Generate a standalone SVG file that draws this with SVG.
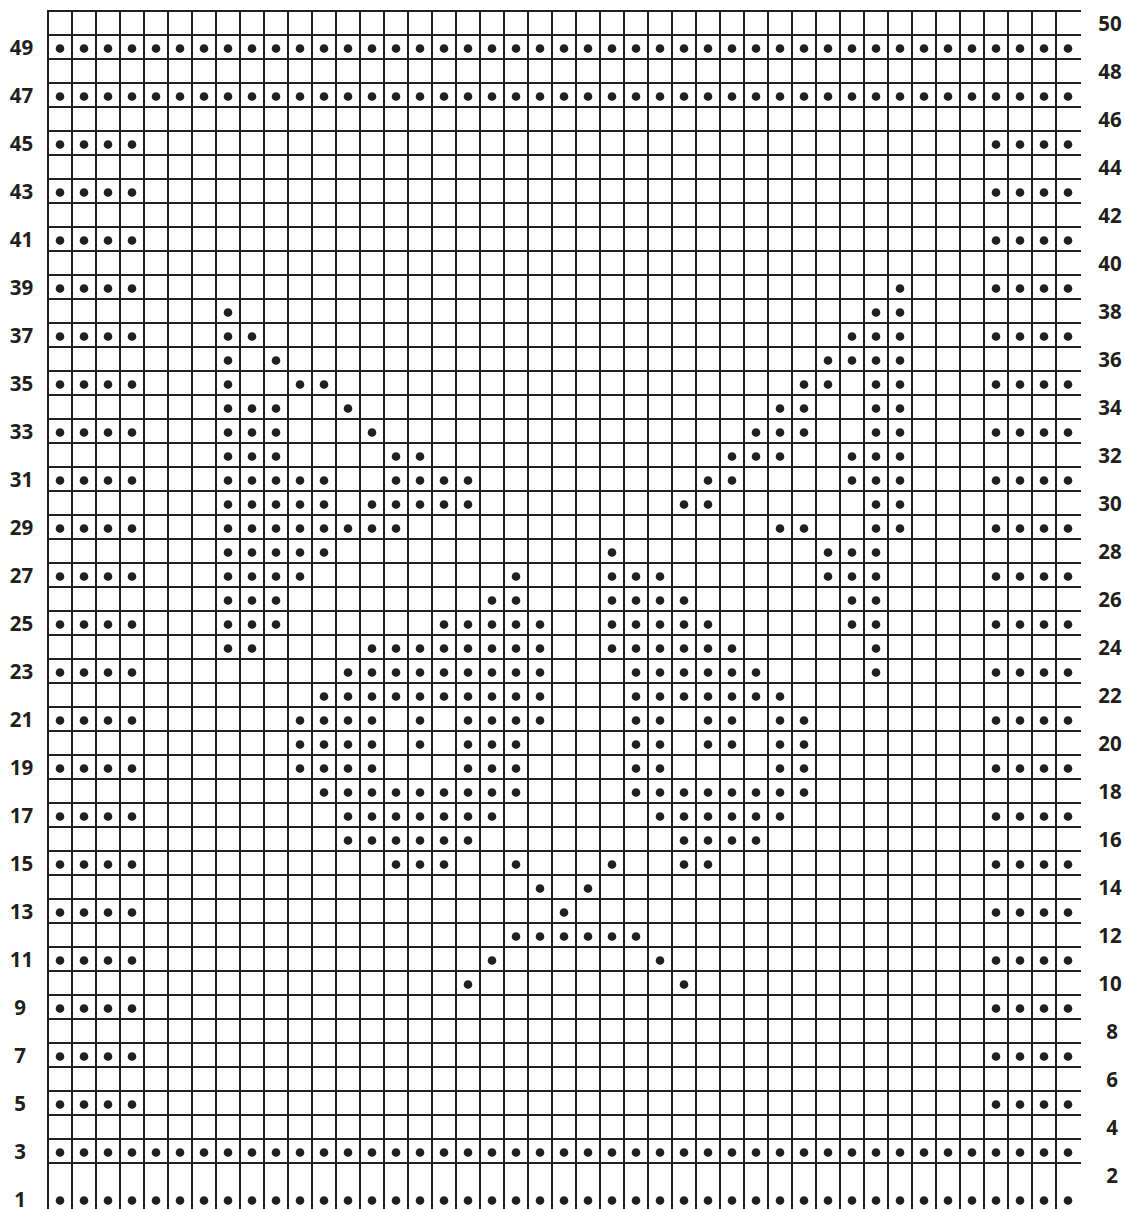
<svg xmlns="http://www.w3.org/2000/svg" xmlns:xlink="http://www.w3.org/1999/xlink" width="1125" height="1209" viewBox="0 0 1125 1209">
<style>
.grid{fill:none;stroke:#231f20;stroke-width:2}
circle{r:4.3px;fill:#231f20}
text{font-family:"Open Sans","Liberation Sans",Arial,sans-serif;font-weight:bold;font-size:20.5px;fill:#231f20;text-anchor:middle}
</style>
<defs>
<g id="A"><circle cx="0"/><circle cx="24"/><circle cx="48"/><circle cx="72"/><circle cx="96"/><circle cx="120"/><circle cx="144"/><circle cx="168"/><circle cx="192"/><circle cx="216"/><circle cx="240"/><circle cx="264"/><circle cx="288"/><circle cx="312"/><circle cx="336"/><circle cx="360"/><circle cx="384"/><circle cx="408"/><circle cx="432"/><circle cx="456"/><circle cx="480"/><circle cx="504"/><circle cx="528"/><circle cx="552"/><circle cx="576"/><circle cx="600"/><circle cx="624"/><circle cx="648"/><circle cx="672"/><circle cx="696"/><circle cx="720"/><circle cx="744"/><circle cx="768"/><circle cx="792"/><circle cx="816"/><circle cx="840"/><circle cx="864"/><circle cx="888"/><circle cx="912"/><circle cx="936"/><circle cx="960"/><circle cx="984"/><circle cx="1008"/></g>
<g id="B"><circle cx="0"/><circle cx="24"/><circle cx="48"/><circle cx="72"/><circle cx="936"/><circle cx="960"/><circle cx="984"/><circle cx="1008"/></g>
</defs>
<rect width="1125" height="1209" fill="#fff"/>
<g id="grid">
<path class="grid" d="M48 10V1209m24-1199v1199m24-1199v1199m24-1199v1199m24-1199v1199m24-1199v1199m24-1199v1199m24-1199v1199m24-1199v1199m24-1199v1199m24-1199v1199m24-1199v1199m24-1199v1199m24-1199v1199m24-1199v1199m24-1199v1199m24-1199v1199m24-1199v1199m24-1199v1199m24-1199v1199m24-1199v1199m24-1199v1199m24-1199v1199m24-1199v1199m24-1199v1199m24-1199v1199m24-1199v1199m24-1199v1199m24-1199v1199m24-1199v1199m24-1199v1199m24-1199v1199m24-1199v1199m24-1199v1199m24-1199v1199m24-1199v1199m24-1199v1199m24-1199v1199m24-1199v1199m24-1199v1199m24-1199v1199m24-1199v1199m24-1199v1199M47 11H1081m-1034 24h1034m-1034 24h1034m-1034 24h1034m-1034 24h1034m-1034 24h1034m-1034 24h1034m-1034 24h1034m-1034 24h1034m-1034 24h1034m-1034 24h1034m-1034 24h1034m-1034 24h1034m-1034 24h1034m-1034 24h1034m-1034 24h1034m-1034 24h1034m-1034 24h1034m-1034 24h1034m-1034 24h1034m-1034 24h1034m-1034 24h1034m-1034 24h1034m-1034 24h1034m-1034 24h1034m-1034 24h1034m-1034 24h1034m-1034 24h1034m-1034 24h1034m-1034 24h1034m-1034 24h1034m-1034 24h1034m-1034 24h1034m-1034 24h1034m-1034 24h1034m-1034 24h1034m-1034 24h1034m-1034 24h1034m-1034 24h1034m-1034 24h1034m-1034 24h1034m-1034 24h1034m-1034 24h1034m-1034 24h1034m-1034 24h1034m-1034 24h1034m-1034 24h1034m-1034 24h1034m-1034 24h1034"/>
</g>
<g id="stitches">
<use href="#A" x="60" y="1200.5"/>
<use href="#A" x="60" y="1152.5"/>
<use href="#B" x="60" y="1104.5"/>
<use href="#B" x="60" y="1056.5"/>
<use href="#B" x="60" y="1008.5"/>
<use href="#B" x="60" y="240.5"/>
<use href="#B" x="60" y="192.5"/>
<use href="#B" x="60" y="144.5"/>
<use href="#A" x="60" y="96.5"/>
<use href="#A" x="60" y="48.5"/>
<g transform="translate(60,984.5)"><circle cx="408"/><circle cx="624"/></g>
<g transform="translate(60,960.5)"><use href="#B"/><circle cx="432"/><circle cx="600"/></g>
<g transform="translate(60,936.5)"><circle cx="456"/><circle cx="480"/><circle cx="504"/><circle cx="528"/><circle cx="552"/><circle cx="576"/></g>
<g transform="translate(60,912.5)"><use href="#B"/><circle cx="504"/></g>
<g transform="translate(60,888.5)"><circle cx="480"/><circle cx="528"/></g>
<g transform="translate(60,864.5)"><use href="#B"/><circle cx="336"/><circle cx="360"/><circle cx="384"/><circle cx="456"/><circle cx="552"/><circle cx="624"/><circle cx="648"/></g>
<g transform="translate(60,840.5)"><circle cx="288"/><circle cx="312"/><circle cx="336"/><circle cx="360"/><circle cx="384"/><circle cx="408"/><circle cx="624"/><circle cx="648"/><circle cx="672"/><circle cx="696"/></g>
<g transform="translate(60,816.5)"><use href="#B"/><circle cx="288"/><circle cx="312"/><circle cx="336"/><circle cx="360"/><circle cx="384"/><circle cx="408"/><circle cx="432"/><circle cx="600"/><circle cx="624"/><circle cx="648"/><circle cx="672"/><circle cx="696"/><circle cx="720"/></g>
<g transform="translate(60,792.5)"><circle cx="264"/><circle cx="288"/><circle cx="312"/><circle cx="336"/><circle cx="360"/><circle cx="384"/><circle cx="408"/><circle cx="432"/><circle cx="456"/><circle cx="576"/><circle cx="600"/><circle cx="624"/><circle cx="648"/><circle cx="672"/><circle cx="696"/><circle cx="720"/><circle cx="744"/></g>
<g transform="translate(60,768.5)"><use href="#B"/><circle cx="240"/><circle cx="264"/><circle cx="288"/><circle cx="312"/><circle cx="408"/><circle cx="432"/><circle cx="456"/><circle cx="576"/><circle cx="600"/><circle cx="720"/><circle cx="744"/></g>
<g transform="translate(60,744.5)"><circle cx="240"/><circle cx="264"/><circle cx="288"/><circle cx="312"/><circle cx="360"/><circle cx="408"/><circle cx="432"/><circle cx="456"/><circle cx="576"/><circle cx="600"/><circle cx="648"/><circle cx="672"/><circle cx="720"/><circle cx="744"/></g>
<g transform="translate(60,720.5)"><use href="#B"/><circle cx="240"/><circle cx="264"/><circle cx="288"/><circle cx="312"/><circle cx="360"/><circle cx="408"/><circle cx="432"/><circle cx="456"/><circle cx="480"/><circle cx="576"/><circle cx="600"/><circle cx="648"/><circle cx="672"/><circle cx="720"/><circle cx="744"/></g>
<g transform="translate(60,696.5)"><circle cx="264"/><circle cx="288"/><circle cx="312"/><circle cx="336"/><circle cx="360"/><circle cx="384"/><circle cx="408"/><circle cx="432"/><circle cx="456"/><circle cx="480"/><circle cx="576"/><circle cx="600"/><circle cx="624"/><circle cx="648"/><circle cx="672"/><circle cx="696"/><circle cx="720"/></g>
<g transform="translate(60,672.5)"><use href="#B"/><circle cx="288"/><circle cx="312"/><circle cx="336"/><circle cx="360"/><circle cx="384"/><circle cx="408"/><circle cx="432"/><circle cx="456"/><circle cx="480"/><circle cx="576"/><circle cx="600"/><circle cx="624"/><circle cx="648"/><circle cx="672"/><circle cx="696"/><circle cx="816"/></g>
<g transform="translate(60,648.5)"><circle cx="168"/><circle cx="192"/><circle cx="312"/><circle cx="336"/><circle cx="360"/><circle cx="384"/><circle cx="408"/><circle cx="432"/><circle cx="456"/><circle cx="480"/><circle cx="552"/><circle cx="576"/><circle cx="600"/><circle cx="624"/><circle cx="648"/><circle cx="672"/><circle cx="816"/></g>
<g transform="translate(60,624.5)"><use href="#B"/><circle cx="168"/><circle cx="192"/><circle cx="216"/><circle cx="384"/><circle cx="408"/><circle cx="432"/><circle cx="456"/><circle cx="480"/><circle cx="552"/><circle cx="576"/><circle cx="600"/><circle cx="624"/><circle cx="648"/><circle cx="792"/><circle cx="816"/></g>
<g transform="translate(60,600.5)"><circle cx="168"/><circle cx="192"/><circle cx="216"/><circle cx="432"/><circle cx="456"/><circle cx="552"/><circle cx="576"/><circle cx="600"/><circle cx="624"/><circle cx="792"/><circle cx="816"/></g>
<g transform="translate(60,576.5)"><use href="#B"/><circle cx="168"/><circle cx="192"/><circle cx="216"/><circle cx="240"/><circle cx="456"/><circle cx="552"/><circle cx="576"/><circle cx="600"/><circle cx="768"/><circle cx="792"/><circle cx="816"/></g>
<g transform="translate(60,552.5)"><circle cx="168"/><circle cx="192"/><circle cx="216"/><circle cx="240"/><circle cx="264"/><circle cx="552"/><circle cx="768"/><circle cx="792"/><circle cx="816"/></g>
<g transform="translate(60,528.5)"><use href="#B"/><circle cx="168"/><circle cx="192"/><circle cx="216"/><circle cx="240"/><circle cx="264"/><circle cx="288"/><circle cx="312"/><circle cx="336"/><circle cx="720"/><circle cx="744"/><circle cx="816"/><circle cx="840"/></g>
<g transform="translate(60,504.5)"><circle cx="168"/><circle cx="192"/><circle cx="216"/><circle cx="240"/><circle cx="264"/><circle cx="312"/><circle cx="336"/><circle cx="360"/><circle cx="384"/><circle cx="408"/><circle cx="624"/><circle cx="648"/><circle cx="816"/><circle cx="840"/></g>
<g transform="translate(60,480.5)"><use href="#B"/><circle cx="168"/><circle cx="192"/><circle cx="216"/><circle cx="240"/><circle cx="264"/><circle cx="336"/><circle cx="360"/><circle cx="384"/><circle cx="408"/><circle cx="648"/><circle cx="672"/><circle cx="792"/><circle cx="816"/><circle cx="840"/></g>
<g transform="translate(60,456.5)"><circle cx="168"/><circle cx="192"/><circle cx="216"/><circle cx="336"/><circle cx="360"/><circle cx="672"/><circle cx="696"/><circle cx="720"/><circle cx="792"/><circle cx="816"/><circle cx="840"/></g>
<g transform="translate(60,432.5)"><use href="#B"/><circle cx="168"/><circle cx="192"/><circle cx="216"/><circle cx="312"/><circle cx="696"/><circle cx="720"/><circle cx="744"/><circle cx="816"/><circle cx="840"/></g>
<g transform="translate(60,408.5)"><circle cx="168"/><circle cx="192"/><circle cx="216"/><circle cx="288"/><circle cx="720"/><circle cx="744"/><circle cx="816"/><circle cx="840"/></g>
<g transform="translate(60,384.5)"><use href="#B"/><circle cx="168"/><circle cx="240"/><circle cx="264"/><circle cx="744"/><circle cx="768"/><circle cx="816"/><circle cx="840"/></g>
<g transform="translate(60,360.5)"><circle cx="168"/><circle cx="216"/><circle cx="768"/><circle cx="792"/><circle cx="816"/><circle cx="840"/></g>
<g transform="translate(60,336.5)"><use href="#B"/><circle cx="168"/><circle cx="192"/><circle cx="792"/><circle cx="816"/><circle cx="840"/></g>
<g transform="translate(60,312.5)"><circle cx="168"/><circle cx="816"/><circle cx="840"/></g>
<g transform="translate(60,288.5)"><use href="#B"/><circle cx="840"/></g>
</g>
<g id="row-numbers-left">
<text x="20" y="1206.5">1</text><text x="20" y="1159">3</text><text x="20" y="1111">5</text><text x="20" y="1063">7</text><text x="20" y="1015">9</text>
<text x="21.5" y="967">11</text><text x="21.5" y="919">13</text><text x="21.5" y="871">15</text><text x="21.5" y="823">17</text><text x="21.5" y="775">19</text>
<text x="21.5" y="727">21</text><text x="21.5" y="679">23</text><text x="21.5" y="631">25</text><text x="21.5" y="583">27</text><text x="21.5" y="535">29</text>
<text x="21.5" y="487">31</text><text x="21.5" y="439">33</text><text x="21.5" y="391">35</text><text x="21.5" y="343">37</text><text x="21.5" y="295">39</text>
<text x="21.5" y="247">41</text><text x="21.5" y="199">43</text><text x="21.5" y="151">45</text><text x="21.5" y="103">47</text><text x="21.5" y="55">49</text>
</g>
<g id="row-numbers-right">
<text x="1112" y="1183">2</text><text x="1112" y="1135">4</text><text x="1112" y="1087">6</text><text x="1112" y="1039">8</text>
<text x="1110" y="991">10</text><text x="1110" y="943">12</text><text x="1110" y="895">14</text><text x="1110" y="847">16</text><text x="1110" y="799">18</text>
<text x="1110" y="751">20</text><text x="1110" y="703">22</text><text x="1110" y="655">24</text><text x="1110" y="607">26</text><text x="1110" y="559">28</text>
<text x="1110" y="511">30</text><text x="1110" y="463">32</text><text x="1110" y="415">34</text><text x="1110" y="367">36</text><text x="1110" y="319">38</text>
<text x="1110" y="271">40</text><text x="1110" y="223">42</text><text x="1110" y="175">44</text><text x="1110" y="127">46</text><text x="1110" y="79">48</text><text x="1110" y="31">50</text>
</g>
</svg>
